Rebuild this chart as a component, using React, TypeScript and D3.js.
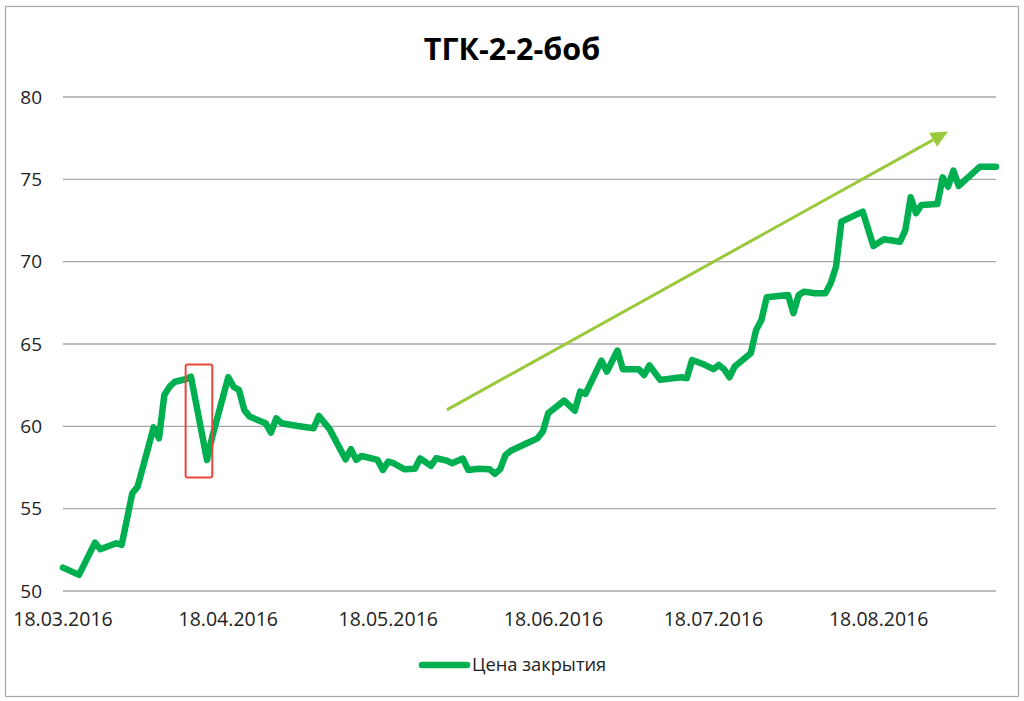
import * as React from 'react';
import * as d3 from 'd3';

// Closing prices
const dates = [
  '18.03.2016', '21.03.2016', '24.03.2016', '25.03.2016', '28.03.2016', '29.03.2016', '31.03.2016',
  '01.04.2016', '04.04.2016', '05.04.2016', '06.04.2016', '07.04.2016', '08.04.2016', '10.04.2016',
  '11.04.2016', '14.04.2016', '15.04.2016', '18.04.2016', '19.04.2016', '20.04.2016', '21.04.2016',
  '22.04.2016', '25.04.2016', '26.04.2016', '27.04.2016', '28.04.2016', '01.05.2016', '04.05.2016',
  '05.05.2016', '07.05.2016', '10.05.2016', '11.05.2016', '12.05.2016', '13.05.2016', '16.05.2016',
  '17.05.2016', '18.05.2016', '19.05.2016', '21.05.2016', '23.05.2016', '24.05.2016', '26.05.2016',
  '27.05.2016', '29.05.2016', '30.05.2016', '01.06.2016', '02.06.2016', '04.06.2016', '06.06.2016',
  '07.06.2016', '08.06.2016', '09.06.2016', '10.06.2016', '13.06.2016', '15.06.2016', '16.06.2016',
  '17.06.2016', '20.06.2016', '22.06.2016', '23.06.2016', '24.06.2016', '27.06.2016', '28.06.2016',
  '30.06.2016', '01.07.2016', '04.07.2016', '05.07.2016', '06.07.2016', '08.07.2016', '12.07.2016',
  '13.07.2016', '14.07.2016', '16.07.2016', '18.07.2016', '19.07.2016', '20.07.2016', '21.07.2016',
  '22.07.2016', '25.07.2016', '26.07.2016', '27.07.2016', '28.07.2016', '01.08.2016', '02.08.2016',
  '03.08.2016', '04.08.2016', '06.08.2016', '08.08.2016', '09.08.2016', '10.08.2016', '11.08.2016',
  '15.08.2016', '17.08.2016', '19.08.2016', '22.08.2016', '23.08.2016', '24.08.2016', '25.08.2016',
  '26.08.2016', '29.08.2016', '30.08.2016', '31.08.2016', '01.09.2016', '02.09.2016', '06.09.2016',
  '09.09.2016',
];

const closes = [
  51.42, 50.98, 52.94, 52.54, 52.9, 52.8, 55.94,
  56.34, 59.94, 59.27, 61.9, 62.41, 62.71, 62.86,
  63.02, 57.96, 59.37, 62.98, 62.41, 62.21, 61.0,
  60.59, 60.19, 59.62, 60.49, 60.19, 60.02, 59.88,
  60.63, 59.83, 58.0, 58.61, 57.96, 58.2, 57.96,
  57.35, 57.86, 57.76, 57.4, 57.43, 58.06, 57.6,
  58.06, 57.92, 57.76, 58.04, 57.35, 57.43, 57.4,
  57.11, 57.4, 58.26, 58.52, 58.97, 59.27, 59.68,
  60.79, 61.56, 60.95, 62.11, 61.97, 63.99, 63.32,
  64.6, 63.47, 63.47, 63.12, 63.7, 62.82, 62.98,
  62.92, 64.03, 63.79, 63.47, 63.73, 63.47, 62.98,
  63.63, 64.44, 65.85, 66.46, 67.84, 67.98, 66.87,
  67.98, 68.18, 68.08, 68.08, 68.69, 69.7, 72.43,
  73.04, 70.95, 71.36, 71.21, 71.92, 73.91, 72.94,
  73.44, 73.5, 75.12, 74.55, 75.53, 74.6, 75.77,
  75.77,
];

const xTicks = ['18.03.2016', '18.04.2016', '18.05.2016', '18.06.2016', '18.07.2016', '18.08.2016'];
const xDomain = ['18.03.2016', '09.09.2016'];
const yDomain = [50, 80];

// annotations: highlighted dip and trend arrow
const boxDates = ['10.04.2016', '15.04.2016'];
const boxValues = [63.75, 56.9];
const arrowDates = ['29.05.2016', '31.08.2016'];
const arrowValues = [61.0, 77.9];

const title = 'ТГК-2-2-боб';
const seriesName = 'Цена закрытия';

const parse = d3.timeParse('%d.%m.%Y');
const font = '"Open Sans", sans-serif';
const lineColor = '#00B050';

export default function App() {
  const width = 1024;
  const height = 701;

  const x = d3.scaleTime()
    .domain(xDomain.map(d => parse(d) as Date))
    .range([63, 996]);
  const y = d3.scaleLinear().domain(yDomain).range([591, 97]);

  const points = dates.map((d, i) => [parse(d) as Date, closes[i]] as [Date, number]);
  const line = d3.line<[Date, number]>()
    .x(d => x(d[0]))
    .y(d => y(d[1]));

  const bx0 = x(parse(boxDates[0]) as Date);
  const bx1 = x(parse(boxDates[1]) as Date);
  const by0 = y(boxValues[0]);
  const by1 = y(boxValues[1]);

  const ax0 = x(parse(arrowDates[0]) as Date);
  const ay0 = y(arrowValues[0]);
  const ax1 = x(parse(arrowDates[1]) as Date);
  const ay1 = y(arrowValues[1]);
  const ang = Math.atan2(ay1 - ay0, ax1 - ax0);
  const headLen = 17;
  const headHalf = 8;
  const bxh = ax1 - headLen * Math.cos(ang);
  const byh = ay1 - headLen * Math.sin(ang);
  const head = [
    [ax1, ay1],
    [bxh + headHalf * Math.sin(ang), byh - headHalf * Math.cos(ang)],
    [bxh - headHalf * Math.sin(ang), byh + headHalf * Math.cos(ang)],
  ].map(p => p.join(',')).join(' ');

  return (
    <svg width={width} height={height} style={{position: 'absolute', left: 0, top: 0, background: '#fff'}}
      fontFamily={font}>
      <rect x={5.5} y={6.5} width={1013} height={690} fill="#fff" stroke="#A6A6A6" strokeWidth={1.2}/>

      <text x={512} y={60} textAnchor="middle" fontSize={30.5} fontWeight={700} fill="#000">{title}</text>

      {y.ticks(6).map(t => (
        <g key={t}>
          <line x1={63} x2={996} y1={y(t)} y2={y(t)} stroke="#A6A6A6" strokeWidth={1.3}/>
          <text x={42} y={y(t)} dy="0.35em" textAnchor="end" fontSize={19} fill="#222">{t}</text>
        </g>
      ))}

      {xTicks.map(t => (
        <text key={t} x={x(parse(t) as Date)} y={626} textAnchor="middle" fontSize={19.5} fill="#222">{t}</text>
      ))}

      <path d={line(points) ?? ''} fill="none" stroke={lineColor} strokeWidth={6.5}
        strokeLinejoin="round" strokeLinecap="round"/>

      <rect x={bx0} y={by0} width={bx1 - bx0} height={by1 - by0} rx={2}
        fill="none" stroke="#E8473D" strokeWidth={2}/>

      <line x1={ax0} y1={ay0} x2={bxh} y2={byh} stroke="#9BC93C" strokeWidth={3}/>
      <polygon points={head} fill="#9BC93C"/>

      <line x1={422} x2={467} y1={665} y2={665} stroke={lineColor} strokeWidth={6.5} strokeLinecap="round"/>
      <text x={472} y={665} dy="0.35em" fontSize={18.3} fill="#222">{seriesName}</text>
    </svg>
  );
}
